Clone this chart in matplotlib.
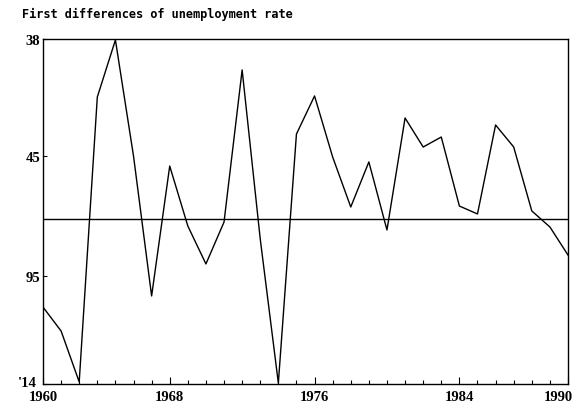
import matplotlib
matplotlib.use("Agg")
import matplotlib.pyplot as plt
from matplotlib.ticker import FixedLocator, MultipleLocator
from matplotlib.transforms import ScaledTranslation

title = "First differences of unemployment rate"

years = list(range(1961, 1991))
diff_values = [-0.578, -0.753, -1.125, 0.956, 1.373, 0.525, -0.497, 0.452, 0.014, -0.263,
               0.043, 1.154, -0.081, -1.133, 0.686, 0.964, 0.518, 0.153, 0.482, -0.015,
               0.803, 0.591, 0.664, 0.160, 0.102, 0.752, 0.591, 0.124, 0.007, -0.198]
mean_line = 0.065

x_tick_pos = [1961, 1968, 1976, 1984, 1990]
x_tick_labels = ["1960", "1968", "1976", "1984", "1990"]
y_tick_pos = [1.38, 0.525, -0.351, -1.14]
y_tick_labels = ["38", "45", "95", "'14"]

fig = plt.figure(figsize=(5.73, 4.10), dpi=100)
ax = fig.add_axes([43/573, 1 - 385/410, (568 - 43)/573, (385 - 40)/410])

ax.plot(years, diff_values, color="black", linewidth=1.0)
ax.axhline(mean_line, color="black", linewidth=1.0)

ax.set_xlim(1961, 1990)
ax.set_ylim(-1.14, 1.38)

ax.xaxis.set_major_locator(FixedLocator(x_tick_pos))
ax.set_xticklabels(x_tick_labels)
ax.xaxis.set_minor_locator(MultipleLocator(1))
ax.yaxis.set_major_locator(FixedLocator(y_tick_pos))
ax.set_yticklabels(y_tick_labels)

for t in ax.get_xticklabels() + ax.get_yticklabels():
    t.set_fontfamily("Liberation Serif")
    t.set_fontweight("bold")
    t.set_fontsize(10.5)

ax.tick_params(axis="x", which="major", direction="in", length=5, width=0.8, pad=4)
ax.tick_params(axis="x", which="minor", direction="in", length=3, width=0.8)
ax.tick_params(axis="y", which="major", direction="in", length=3, width=0.8, pad=2)

xl = ax.get_xticklabels()
xl[-1].set_horizontalalignment("right")
xl[-1].set_transform(xl[-1].get_transform() + ScaledTranslation(5/100, 0, fig.dpi_scale_trans))
yl = ax.get_yticklabels()
yl[-1].set_transform(yl[-1].get_transform() + ScaledTranslation(-3/100, 3/100, fig.dpi_scale_trans))

for s in ax.spines.values():
    s.set_linewidth(1.0)
    s.set_color("black")

fig.text(22/573, 1 - 14/410, title, family="DejaVu Sans Mono", weight="bold",
         fontsize=8.6, va="center", ha="left")

fig.savefig("out.png", dpi=100)
